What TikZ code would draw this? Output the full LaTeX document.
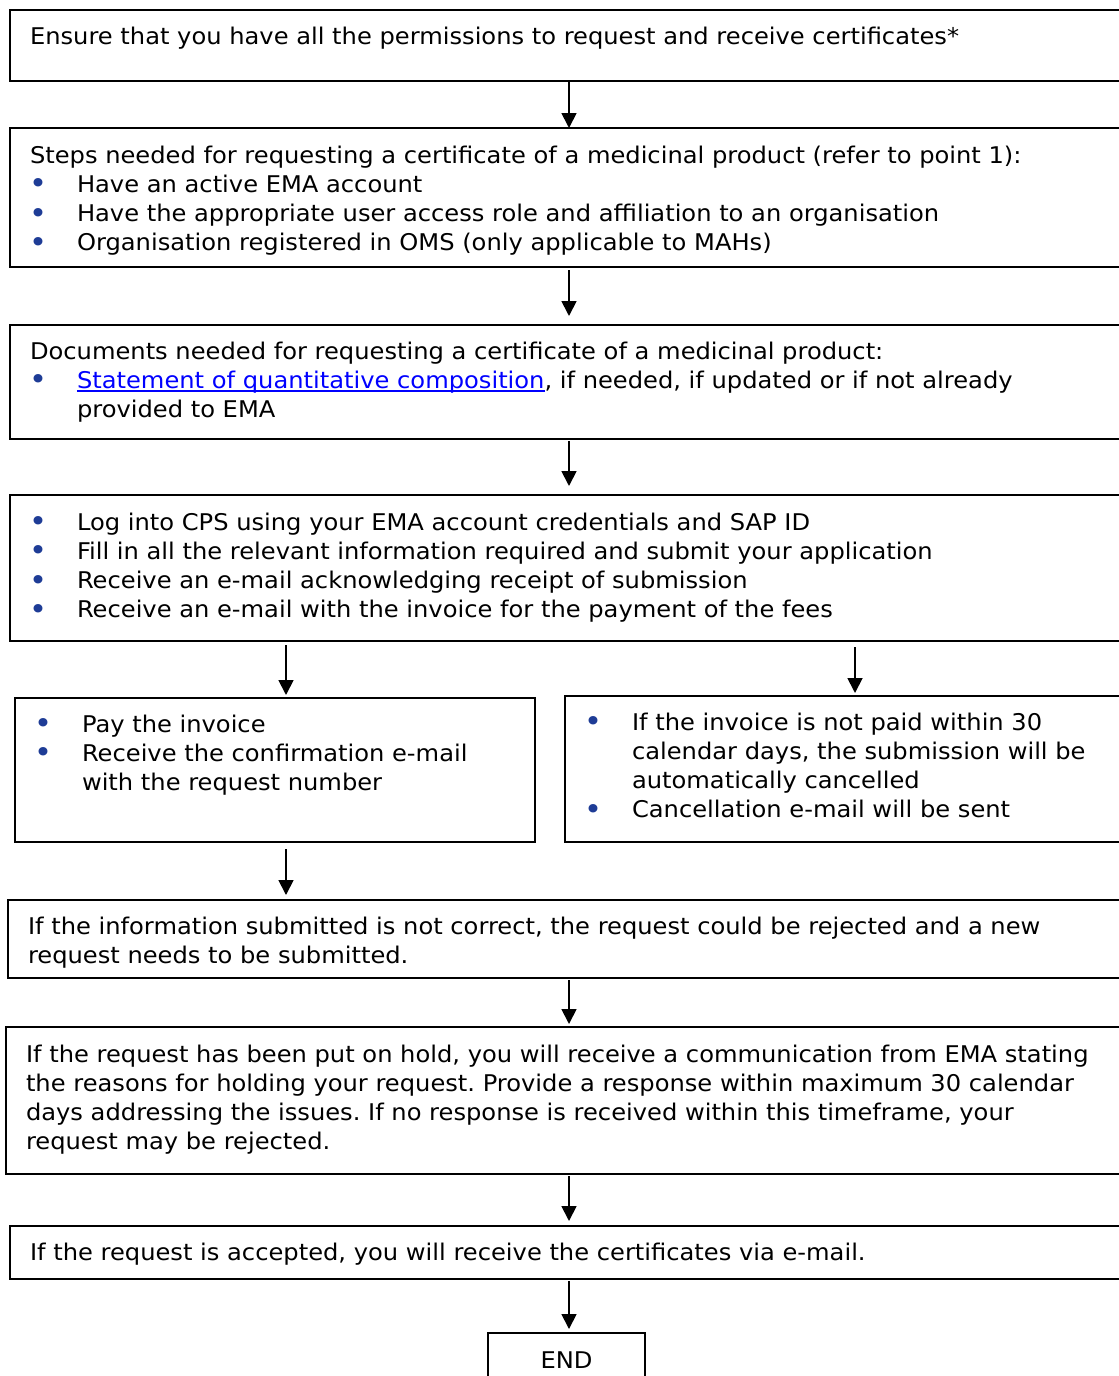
\documentclass[tikz,border=0pt]{standalone}
\usepackage{fontspec}
\setmainfont{DejaVu Sans}[FakeStretch=1.051]
\usetikzlibrary{arrows.meta}
\definecolor{bulletblue}{RGB}{30,60,150}
\definecolor{linkblue}{RGB}{0,0,255}
\newcommand{\bmark}{\hangindent=47pt\hangafter=1\makebox[47pt][l]{\hspace{-0.5pt}\raisebox{-1.5pt}{\textcolor{bulletblue}{\fontsize{29}{29}\selectfont\textbullet}}}}
\newcommand{\bitem}{\par\noindent\bmark}
\newcommand{\linkul}[1]{\textcolor{linkblue}{\setbox0=\hbox{#1}\rlap{\rule[-3.5pt]{\wd0}{1.5pt}}\box0}}
\frenchspacing
\begin{document}
\begin{tikzpicture}[
        x = 1pt, y = -1pt,
        every node/.style = {font = \fontsize{23}{29.3}\selectfont},
        flowbox/.style = {draw, line width = 1.8pt, anchor = north west, outer sep = 0pt,
            inner xsep = 20pt, inner ysep = 0pt, align = left, text width = 1100pt,
            text height = 18pt},
        flowarrow/.style = {line width = 1.8pt, -{Triangle[width = 15pt, length = 15pt]},
            shorten < = 2pt, shorten > = 4pt},
        ]
    \useasboundingbox (0,0) rectangle (1119,1376);
    \clip (0,0) rectangle (1119,1376);
    \coordinate (colmid) at (569,0);
    \coordinate (colleft) at (286,0);
    \coordinate (colright) at (855,0);

    \node[flowbox, minimum height = 71pt, text depth = 21pt] (perm) at (10,10)
        {Ensure that you have all the permissions to request and receive certificates*};
    \node[flowbox, minimum height = 139pt, text depth = 87pt] (steps) at (10,128)
        {Steps needed for requesting a certificate of a medicinal product (refer to point 1):
        \bitem Have an active EMA account
        \bitem Have the appropriate user access role and affiliation to an organisation
        \bitem Organisation registered in OMS (only applicable to MAHs)};
    \node[flowbox, minimum height = 114pt, text depth = 64pt] (docs) at (10,325)
        {Documents needed for requesting a certificate of a medicinal product:
        \bitem \linkul{Statement of quantitative composition}, if needed, if updated or if not already\newline
        provided to EMA\par};
    \node[flowbox, minimum height = 146pt, text depth = 94pt] (cps) at (10,495)
        {\bmark Log into CPS using your EMA account credentials and SAP ID
        \bitem Fill in all the relevant information required and submit your application
        \bitem Receive an e-mail acknowledging receipt of submission
        \bitem Receive an e-mail with the invoice for the payment of the fees};
    \node[flowbox, text width = 480pt, minimum height = 144pt, text depth = 94pt] (pay) at (15,698)
        {\bmark Pay the invoice
        \bitem Receive the confirmation e-mail\newline with the request number\par};
    \node[flowbox, text width = 560pt, minimum height = 146pt, text depth = 96pt] (cancel) at (565,696)
        {\bmark If the invoice is not paid within 30\newline calendar days, the submission will be\newline automatically cancelled
        \bitem Cancellation e-mail will be sent};
    \node[flowbox, minimum height = 78pt, text depth = 28pt] (info) at (8,900)
        {If the information submitted is not correct, the request could be rejected and a new\\
        request needs to be submitted.};
    \node[flowbox, minimum height = 147pt, text depth = 95pt] (hold) at (6,1027)
        {If the request has been put on hold, you will receive a communication from EMA stating\\
        the reasons for holding your request. Provide a response within maximum 30 calendar\\
        days addressing the issues. If no response is received within this timeframe, your\\
        request may be rejected.};
    \node[flowbox, minimum height = 53pt, text depth = 3pt] (accept) at (10,1226)
        {If the request is accepted, you will receive the certificates via e-mail.};
    \node[draw, line width = 1.8pt, anchor = north west, outer sep = 0pt,
        minimum width = 157pt, minimum height = 54pt] (end) at (488,1333) {END};

    \draw[flowarrow, shorten < = 0pt, shorten > = 0pt] (perm.south -| colmid) -- (steps.north -| colmid);
    \draw[flowarrow, shorten < = 3pt, shorten > = 9pt] (steps.south -| colmid) -- (docs.north -| colmid);
    \draw[flowarrow, shorten > = 9pt] (docs.south -| colmid) -- (cps.north -| colmid);
    \draw[flowarrow, shorten < = 4pt, shorten > = 3pt] (cps.south -| colleft) -- (pay.north -| colleft);
    \draw[flowarrow, shorten < = 6pt, shorten > = 3pt] (cps.south -| colright) -- (cancel.north -| colright);
    \draw[flowarrow, shorten < = 7pt, shorten > = 5pt] (pay.south -| colleft) -- (info.north -| colleft);
    \draw[flowarrow, shorten > = 3pt] (info.south -| colmid) -- (hold.north -| colmid);
    \draw[flowarrow, shorten > = 5pt] (hold.south -| colmid) -- (accept.north -| colmid);
    \draw[flowarrow] (accept.south -| colmid) -- (end.north -| colmid);
\end{tikzpicture}
\end{document}
